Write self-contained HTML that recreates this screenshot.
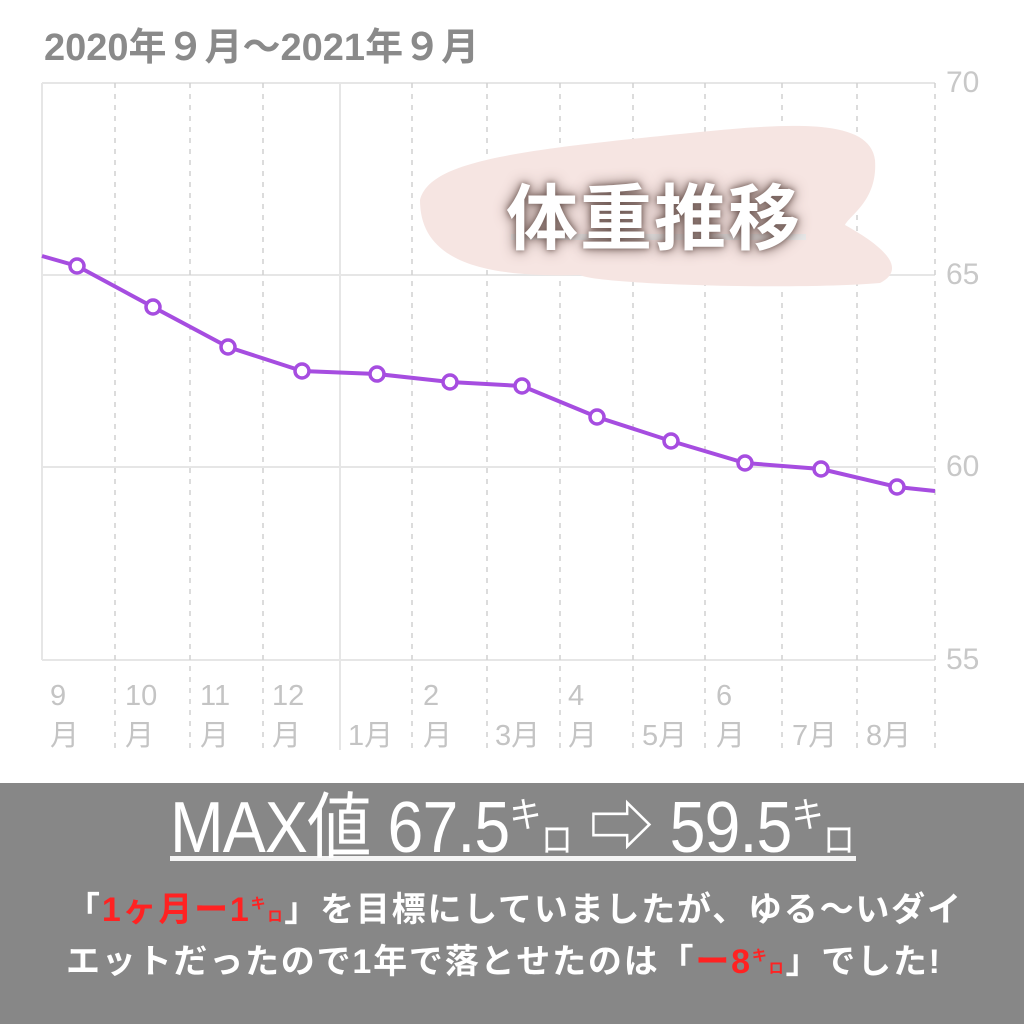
<!DOCTYPE html>
<html><head><meta charset="utf-8"><style>
body{margin:0;width:1024px;height:1024px;background:#fff;overflow:hidden;font-family:"Liberation Sans","Noto Sans CJK JP",sans-serif;position:relative}
.t{position:absolute;white-space:nowrap}
</style></head><body>
<svg width="1024" height="1024" style="position:absolute;left:0;top:0">
<g stroke="#e6e6e6" stroke-width="2">
<line x1="42" y1="83" x2="935" y2="83"/><line x1="42" y1="275" x2="935" y2="275"/>
<line x1="42" y1="467" x2="935" y2="467"/><line x1="42" y1="660" x2="935" y2="660"/>
<line x1="42" y1="83" x2="42" y2="660"/><line x1="340" y1="83" x2="340" y2="750"/>
</g>
<g stroke="#d0d0d0" stroke-width="1.5" stroke-dasharray="5,6">
<line x1="115" y1="83" x2="115" y2="750"/><line x1="190" y1="83" x2="190" y2="750"/><line x1="263" y1="83" x2="263" y2="750"/>
<line x1="412" y1="83" x2="412" y2="750"/><line x1="487" y1="83" x2="487" y2="750"/><line x1="560" y1="83" x2="560" y2="750"/>
<line x1="633" y1="83" x2="633" y2="750"/><line x1="705" y1="83" x2="705" y2="750"/><line x1="782" y1="83" x2="782" y2="750"/>
<line x1="857" y1="83" x2="857" y2="750"/><line x1="935" y1="83" x2="935" y2="750"/>
</g>
<path d="M420 200 C430 160 520 150 700 132 C800 122 870 120 875 160 C878 200 850 215 845 225 C890 250 905 270 880 283 C800 290 600 285 580 275 C480 278 420 260 420 200Z" fill="#f6e5e2"/>
<polyline fill="none" stroke="#a64de0" stroke-width="4" points="42,256 77,266 153,307 228,347 302,371 377,374 450,382 522,386 597,417 671,441 745,463 821,469 897,487 935,491"/>
<g fill="#fff" stroke="#a64de0" stroke-width="3.5">
<circle cx="77" cy="266" r="7"/><circle cx="153" cy="307" r="7"/><circle cx="228" cy="347" r="7"/><circle cx="302" cy="371" r="7"/><circle cx="377" cy="374" r="7"/><circle cx="450" cy="382" r="7"/><circle cx="522" cy="386" r="7"/><circle cx="597" cy="417" r="7"/><circle cx="671" cy="441" r="7"/><circle cx="745" cy="463" r="7"/><circle cx="821" cy="469" r="7"/><circle cx="897" cy="487" r="7"/>
</g>
<rect x="0" y="783" width="1024" height="241" fill="#878787"/>
<rect x="170" y="856" width="686" height="5" fill="#f4f4f4"/>
<rect x="511" y="234" width="295" height="6" fill="#e8e8e8"/>
</svg>
<div class="t" style="left:44px;top:16px;font-size:38px;font-weight:bold;color:#8a8a8a">2020年９月～2021年９月</div>
<div class="t" style="left:946px;top:66px;font-size:30px;color:#c8c8c8">70</div>
<div class="t" style="left:946px;top:258px;font-size:30px;color:#c8c8c8">65</div>
<div class="t" style="left:946px;top:450px;font-size:30px;color:#c8c8c8">60</div>
<div class="t" style="left:946px;top:643px;font-size:30px;color:#c8c8c8">55</div>
<div class="t" style="left:506px;top:160px;font-size:72px;font-weight:bold;color:#fff;text-shadow:0 0 14px #6b5550,0 0 6px #7a6560;letter-spacing:2px">体重推移</div>
<div style="position:absolute;left:0;top:676px;font-size:29px;color:#c4c4c4;line-height:40px">
<div class="t" style="left:50px">9<br>月</div>
<div class="t" style="left:125px">10<br>月</div>
<div class="t" style="left:200px">11<br>月</div>
<div class="t" style="left:272px">12<br>月</div>
<div class="t" style="left:348px;top:40px">1月</div>
<div class="t" style="left:423px">2<br>月</div>
<div class="t" style="left:495px;top:40px">3月</div>
<div class="t" style="left:568px">4<br>月</div>
<div class="t" style="left:642px;top:40px">5月</div>
<div class="t" style="left:716px">6<br>月</div>
<div class="t" style="left:792px;top:40px">7月</div>
<div class="t" style="left:866px;top:40px">8月</div>
</div>
<div class="t" style="left:170px;top:768px;font-size:72px;color:#fff;letter-spacing:-1px;transform:scaleX(0.895);transform-origin:0 0">MAX値 67.5<sup style="font-size:36px">キ</sup><span style="font-size:36px">ロ</span> ⇨ 59.5<sup style="font-size:36px">キ</sup><span style="font-size:36px">ロ</span></div>
<div class="t" style="left:66px;top:882px;font-size:34px;font-weight:bold;color:#fff;letter-spacing:1.8px">「<span style="color:#f22">1ヶ月ー1<sup style="font-size:15px">キ</sup><span style="font-size:15px">ロ</span></span>」を目標にしていましたが、ゆる～いダイ</div>
<div class="t" style="left:66px;top:934px;font-size:34px;font-weight:bold;color:#fff;letter-spacing:1.8px">エットだったので1年で落とせたのは「<span style="color:#f22">ー8<sup style="font-size:15px">キ</sup><span style="font-size:15px">ロ</span></span>」でした!</div>
</body></html>
